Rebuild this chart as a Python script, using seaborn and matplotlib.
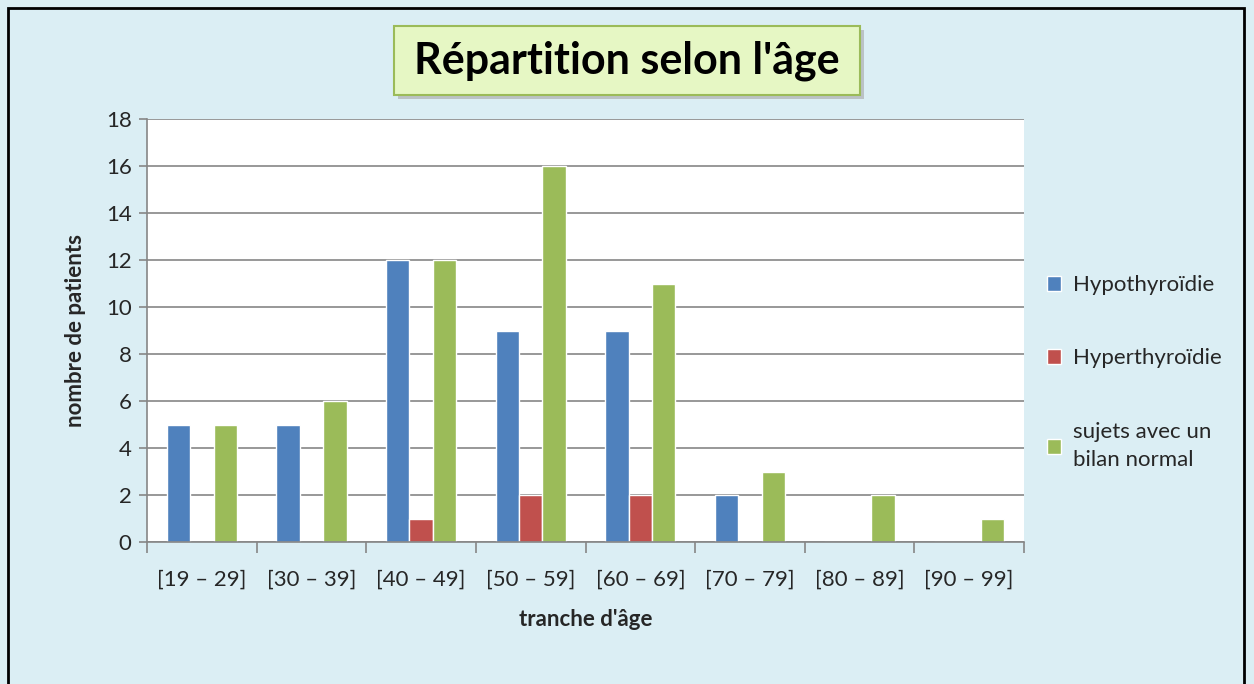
import numpy as np
import pandas as pd
import seaborn as sns
import matplotlib.pyplot as plt
from matplotlib.patches import FancyBboxPatch, Rectangle

# tranches d'age et effectifs
tranches = ["[19 – 29]", "[30 – 39]", "[40 – 49]", "[50 – 59]",
            "[60 – 69]", "[70 – 79]", "[80 – 89]", "[90 – 99]"]
hypothyroidie = [5, 5, 12, 9, 9, 2, 0, 0]
hyperthyroidie = [0, 0, 1, 2, 2, 0, 0, 0]
normal = [5, 6, 12, 16, 11, 3, 2, 1]
series = ["Hypothyroïdie", "Hyperthyroïdie", "sujets avec un\nbilan normal"]
couleurs = ["#4F81BD", "#C0504D", "#9BBB59"]

df = pd.DataFrame({"tranche": tranches * 3,
                   "groupe": np.repeat(series, len(tranches)),
                   "n": hypothyroidie + hyperthyroidie + normal})

sns.set_theme(style="white")
plt.rcParams["font.family"] = ["Lato", "DejaVu Sans"]

bg = "#DBEEF4"
fig = plt.figure(figsize=(12.54, 6.84), dpi=100, facecolor=bg)
ax = fig.add_axes([147 / 1254, 1 - 542 / 684, 877 / 1254, 423 / 684])
ax.set_facecolor("white")

sns.barplot(data=df, x="tranche", y="n", hue="groupe", palette=couleurs,
            width=0.64, saturation=1, ax=ax, legend=True)

ax.set_ylim(0, 18)
ax.set_xlim(-0.5, 7.5)
ax.set_yticks(range(0, 19, 2))
ax.yaxis.grid(True, color="#868686", linewidth=1.2)
ax.set_axisbelow(True)
for s in ["top", "right"]:
    ax.spines[s].set_visible(False)
for s in ["left", "bottom"]:
    ax.spines[s].set_color("#868686")
    ax.spines[s].set_linewidth(1.2)

# graduations entre les categories, etiquettes au centre
ax.set_xticks(np.arange(-0.5, 8, 1))
ax.set_xticklabels([])
ax.set_xticks(range(8), minor=True)
ax.set_xticklabels(tranches, minor=True, fontsize=16)
ax.tick_params(axis="x", which="major", direction="out", length=8,
               color="#868686", width=1.2, bottom=True)
ax.tick_params(axis="x", which="minor", length=0, pad=20)
ax.tick_params(axis="y", direction="out", length=6, color="#868686",
               width=1.2, left=True, labelsize=16, pad=5)

ax.set_xlabel("tranche d'âge", fontsize=16, fontweight="bold", labelpad=14)
ax.set_ylabel("nombre de patients", fontsize=16, fontweight="bold", labelpad=14)

leg = ax.legend(loc="upper left", bbox_to_anchor=(1027 / 1254, 1 - 255 / 684),
                bbox_transform=fig.transFigure, frameon=False, fontsize=16,
                handlelength=0.65, handleheight=0.65, handletextpad=0.5,
                labelspacing=2.4)
for t in leg.get_texts():
    t.set_linespacing(1.55)

# cadre et titre
fig.patches.append(Rectangle((8 / 1254, -0.01), 1236 / 1254, 1 - 8 / 684 + 0.01,
                             transform=fig.transFigure, fill=False,
                             edgecolor="black", linewidth=2))
fig.patches.append(FancyBboxPatch((398 / 1254, 1 - 99 / 684), 466 / 1254, 69 / 684,
                                  boxstyle="square,pad=0", transform=fig.transFigure,
                                  facecolor="#A6A6A6", edgecolor="none", alpha=0.6))
fig.patches.append(FancyBboxPatch((394 / 1254, 1 - 95 / 684), 466 / 1254, 69 / 684,
                                  boxstyle="square,pad=0", transform=fig.transFigure,
                                  facecolor="#E6F7C4", edgecolor="#9BBB59", linewidth=1.5))
fig.text(627 / 1254, 1 - 61 / 684, "Répartition selon l'âge", ha="center",
         va="center", fontsize=31, fontweight="bold", color="black")

fig.savefig("out.png", dpi=100, facecolor=bg)
